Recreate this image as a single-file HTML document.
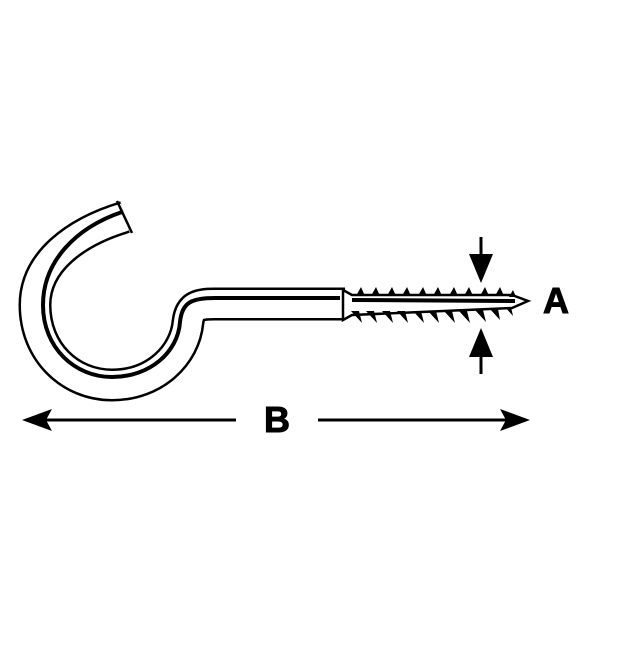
<!DOCTYPE html>
<html><head><style>body{margin:0;background:#fff}</style></head><body>
<svg width="640" height="640" viewBox="0 0 640 640" xmlns="http://www.w3.org/2000/svg">
<rect width="640" height="640" fill="#fff"/>
<g fill="none" stroke-linecap="butt" stroke-linejoin="round">
<path d="M125,217 C 75,232 35,262 35,305 C 35,352 70,385 112,385 C 155,385 185,355 188,322 C 190,306 198,304 215,304 L 345,304" stroke="#000" stroke-width="33"/>
<path d="M125,217 C 75,232 35,262 35,305 C 35,352 70,385 112,385 C 155,385 185,355 188,322 C 190,306 198,304 215,304 L 343,304" stroke="#fff" stroke-width="28"/>
<path d="M122,212 C 75,228 43,262 43,305 C 43,348 75,377 112,377 C 150,377 178,352 180,322 C 182,302 192,298 215,298 L 340,298" stroke="#000" stroke-width="4"/>
</g>
<line x1="117" y1="201" x2="132" y2="233" stroke="#000" stroke-width="2.5"/>
<path d="M343,290 L352,295 L512,295 L528,301 L512,308 L352,315 L343,320 Z" fill="#fff" stroke="#000" stroke-width="2.5"/>
<line x1="352" y1="300" x2="515" y2="301" stroke="#000" stroke-width="4"/>
<g fill="#000">
<path d="M356,296 l5,-9 l4,9z M371,296 l5,-9 l4,9z M387,296 l5,-9 l4,9z M402,296 l5,-9 l4,9z M418,296 l5,-9 l4,9z M433,296 l5,-9 l4,9z M449,296 l5,-9 l4,9z M464,296 l5,-9 l4,9z M480,296 l5,-9 l4,9z M495,296 l5,-9 l4,9z M509,297 l4,-7 l3,7z"/>
<path d="M351,311 l8,0 l3,12z M366,311 l8,0 l3,12z M382,311 l8,0 l3,12z M397,311 l8,0 l3,12z M413,311 l8,0 l3,12z M428,311 l8,0 l3,12z M444,311 l8,0 l3,12z M459,311 l8,0 l3,12z M475,310 l8,0 l3,12z M490,309 l8,0 l2,11z M505,307 l6,0 l2,9z"/>
</g>
<line x1="481" y1="237" x2="481" y2="262" stroke="#000" stroke-width="3"/>
<path d="M469,254 L493,254 L481,283 Z" fill="#000"/>
<line x1="481" y1="350" x2="481" y2="374" stroke="#000" stroke-width="3"/>
<path d="M469,357 L493,357 L481,328 Z" fill="#000"/>
<text x="556" y="313" font-family="Liberation Sans, sans-serif" font-weight="bold" font-size="36" text-anchor="middle" stroke="#000" stroke-width="1">A</text>
<line x1="40" y1="420" x2="236" y2="420" stroke="#000" stroke-width="3"/>
<line x1="318" y1="420" x2="512" y2="420" stroke="#000" stroke-width="3"/>
<path d="M22,420 L52,409 L46,420 L52,431 Z" fill="#000"/>
<path d="M530,420 L500,409 L506,420 L500,431 Z" fill="#000"/>
<text x="277" y="432" font-family="Liberation Sans, sans-serif" font-weight="bold" font-size="36" text-anchor="middle" stroke="#000" stroke-width="1">B</text>
</svg>
</body></html>
